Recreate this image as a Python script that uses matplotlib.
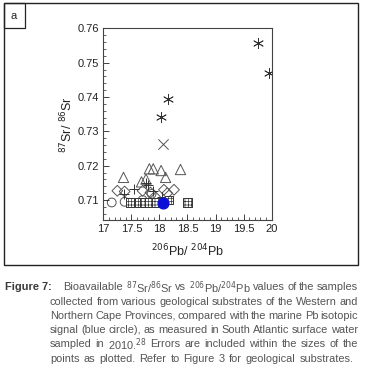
import matplotlib.pyplot as plt
from matplotlib.patches import Rectangle
from matplotlib.ticker import MultipleLocator

plt.rcParams['font.family'] = ['Liberation Sans Narrow', 'Liberation Sans', 'DejaVu Sans']
plt.rcParams['mathtext.fontset'] = 'custom'
plt.rcParams['mathtext.rm'] = 'Liberation Sans Narrow'
plt.rcParams['hatch.linewidth'] = 0.5

# data
star_x = [19.75, 19.96, 18.16, 18.02]
star_y = [0.7556, 0.7471, 0.7395, 0.7343]

cross_x = [18.07]
cross_y = [0.7262]

tri_x = [17.36, 17.68, 17.76, 17.82, 17.89, 18.03, 18.11, 18.375]
tri_y = [0.7166, 0.7153, 0.7161, 0.7191, 0.7191, 0.7186, 0.7166, 0.7189]

dia_x = [17.25, 17.38, 17.70, 17.84, 17.92, 18.08, 18.26, 18.14]
dia_y = [0.7127, 0.7125, 0.7127, 0.7122, 0.7110, 0.7130, 0.7130, 0.7120]

circ_x = [17.15, 17.38, 17.86, 17.70]
circ_y = [0.7093, 0.7095, 0.7118, 0.7100]

plus_x = [17.36, 17.55, 17.76, 17.80, 17.88, 18.05]
plus_y = [0.7118, 0.7131, 0.7150, 0.7143, 0.7125, 0.7108]

sq_x = [17.48, 17.64, 17.72, 17.82, 17.95, 18.17, 18.50]
sq_y = [0.7093, 0.7093, 0.7093, 0.7093, 0.7093, 0.7100, 0.7093]

sea_x = [18.07]
sea_y = [0.7092]

caption = [
    "Bioavailable $^{87}$Sr/$^{86}$Sr vs $^{206}$Pb/$^{204}$Pb values of the samples",
    "collected from various geological substrates of the Western and",
    "Northern Cape Provinces, compared with the marine Pb isotopic",
    "signal (blue circle), as measured in South Atlantic surface water",
    "sampled in 2010.$^{28}$ Errors are included within the sizes of the",
    "points as plotted. Refer to Figure 3 for geological substrates.",
]

W, H = 365, 367
fig = plt.figure(figsize=(W / 100, H / 100), dpi=100)

# outer frame and panel label
fig.patches.append(Rectangle((4 / W, 1 - 265 / H), 354 / W, 262 / H, transform=fig.transFigure,
                             fill=False, edgecolor='#222222', linewidth=1.0))
fig.patches.append(Rectangle((4 / W, 1 - 28 / H), 21 / W, 25 / H, transform=fig.transFigure,
                             fill=False, edgecolor='#222222', linewidth=0.9))
fig.text(14 / W, 1 - 16 / H, 'a', ha='center', va='center', fontsize=8, color='#222222')

ax = fig.add_axes([103.3 / W, 1 - 220 / H, 168.4 / W, 191.7 / H])

gray = '#555555'
ax.scatter(star_x, star_y, marker=(6, 2, 0), s=55, color='#333333', linewidths=0.6)
ax.scatter(cross_x, cross_y, marker='x', s=55, color=gray, linewidths=0.7)
ax.scatter(tri_x, tri_y, marker='^', s=55, facecolors='none', edgecolors=gray, linewidths=0.7)
ax.scatter(dia_x, dia_y, marker='D', s=30, facecolors='none', edgecolors=gray, linewidths=0.7)
ax.scatter(circ_x, circ_y, marker='o', s=40, facecolors='none', edgecolors=gray, linewidths=0.7)
ax.scatter(plus_x, plus_y, marker='+', s=60, color='#333333', linewidths=0.7)
ax.scatter(sq_x, sq_y, marker='s', s=36, facecolors='white', edgecolors='#333333',
           linewidths=0.7, hatch='+++++')
ax.scatter(sea_x, sea_y, marker='o', s=60, color='#0a10d8', zorder=5)

ax.set_xlim(17, 20)
ax.set_ylim(0.7042, 0.76)
ax.xaxis.set_major_locator(MultipleLocator(0.5))
ax.xaxis.set_minor_locator(MultipleLocator(0.1))
ax.yaxis.set_major_locator(MultipleLocator(0.01))
ax.yaxis.set_minor_locator(MultipleLocator(0.002))
ax.set_xticklabels([f'{v:g}' for v in ax.get_xticks()])
ax.set_yticklabels([f'{v:g}' for v in ax.get_yticks()])
ax.tick_params(which='both', direction='in', labelsize=8, colors='#222222', pad=3)
ax.tick_params(which='major', length=4, width=0.6)
ax.tick_params(which='minor', length=2, width=0.5)
for sp in ax.spines.values():
    sp.set_color('#444444')
    sp.set_linewidth(0.8)

ax.set_xlabel('$^{206}$Pb/ $^{204}$Pb', fontsize=9, color='#222222', labelpad=6)
ax.set_ylabel('$^{87}$Sr/ $^{86}$Sr', fontsize=9, color='#222222', labelpad=2)

# caption, justified word by word
cap_color = '#555555'
cap_size = 7.9
fig.text(5 / W, 1 - 287.5 / H, 'Figure 7:', fontsize=cap_size, color='#3a3a3a', va='center',
         fontweight='bold')
fig.canvas.draw()
renderer = fig.canvas.get_renderer()
x_right = 358 / W
for i, line in enumerate(caption):
    y = 1 - (287.5 + 14.2 * i) / H
    x0 = (63.5 if i == 0 else 50) / W
    words = line.split(' ')
    texts = [fig.text(0, y, w, fontsize=cap_size, color=cap_color, va='center') for w in words]
    widths = [t.get_window_extent(renderer).width / W for t in texts]
    if i < len(caption) - 1:
        gap = (x_right - x0 - sum(widths)) / (len(words) - 1)
    else:
        gap = 4.0 / W
    x = x0
    for t, w in zip(texts, widths):
        t.set_x(x)
        x += w + gap

fig.savefig('out.png', dpi=100)
